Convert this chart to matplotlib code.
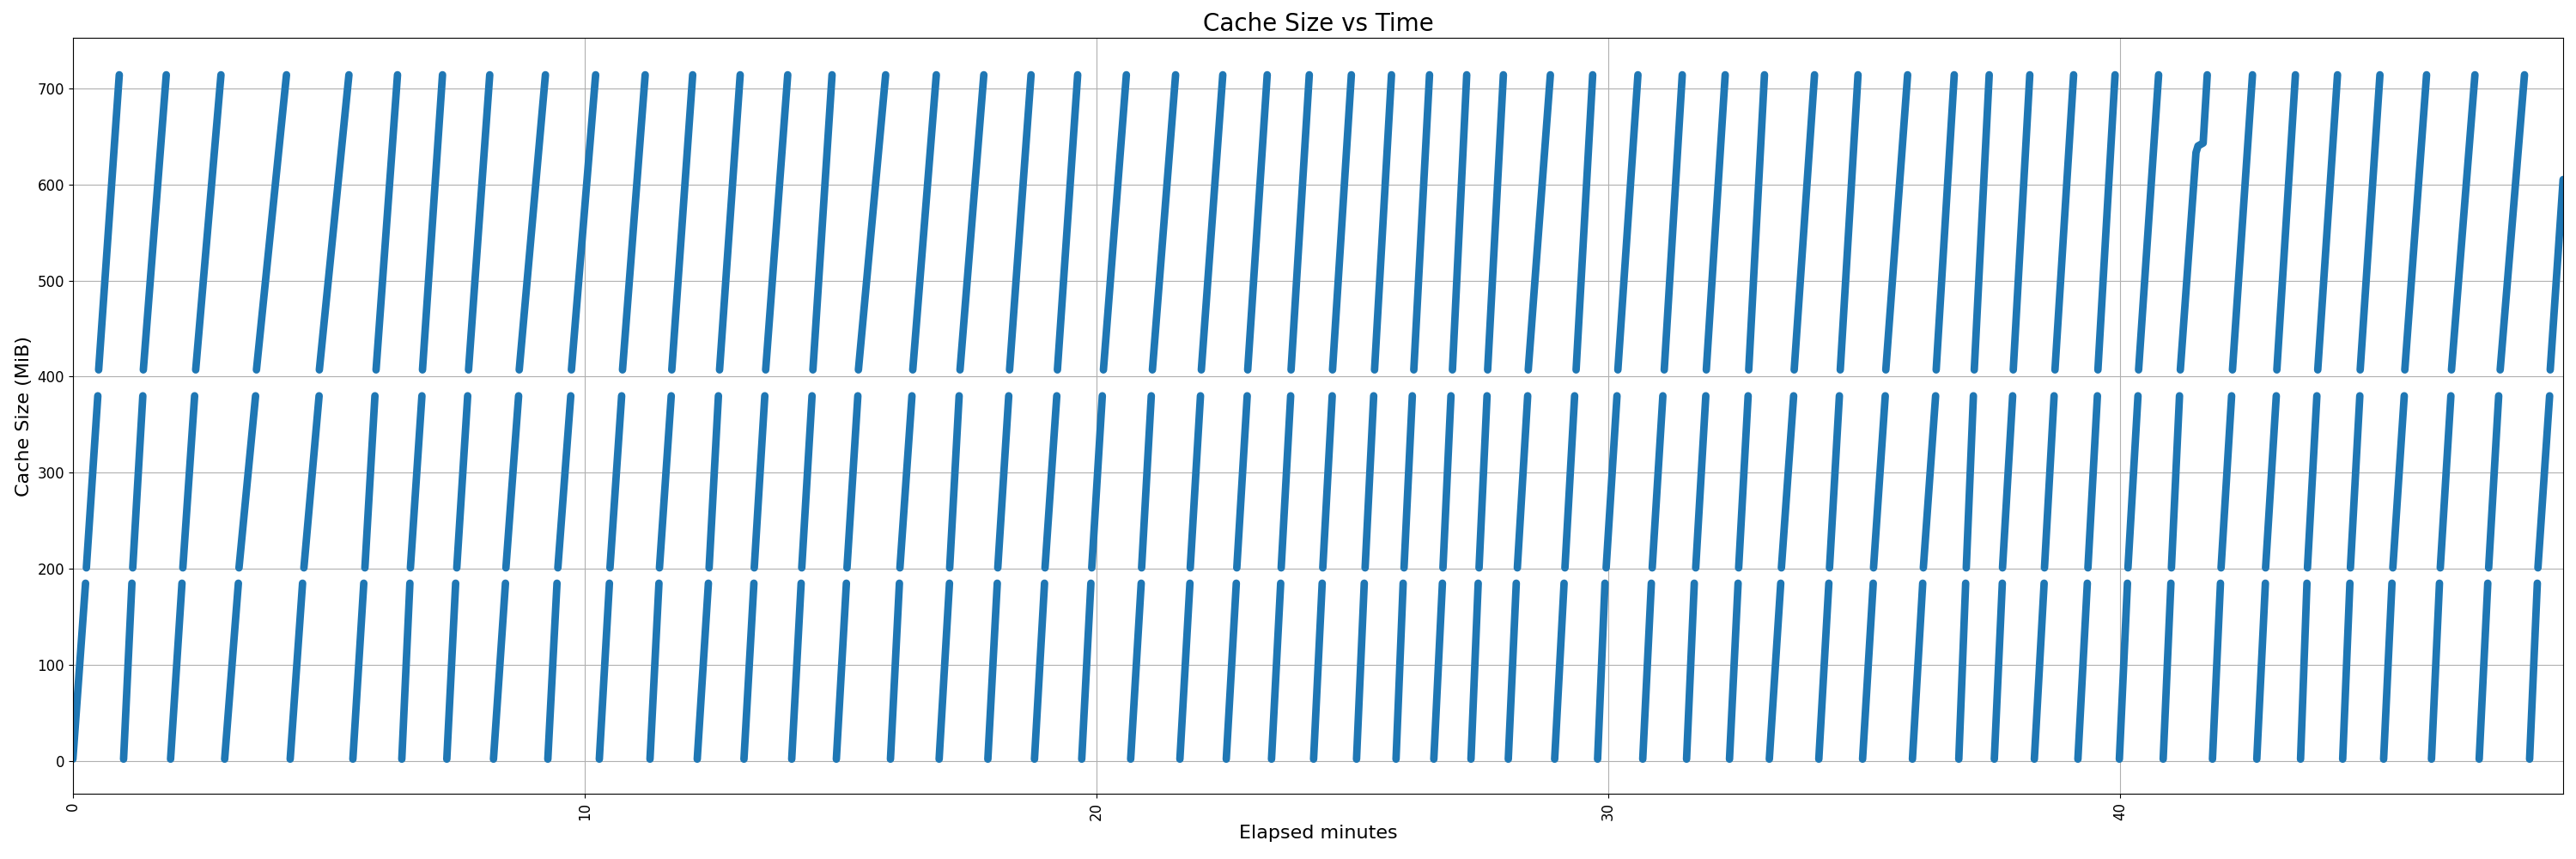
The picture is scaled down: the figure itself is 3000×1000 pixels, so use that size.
import numpy as np
import matplotlib
matplotlib.use("Agg")
import matplotlib.pyplot as plt

# cache size sawtooth: each cycle climbs through three bands then resets
# times (minutes) read at the start / end of every band
b1_start = [0.0, 0.990, 1.908, 2.965, 4.245, 5.470, 6.426, 7.305, 8.217, 9.279, 10.285, 11.275, 12.198, 13.111,
            14.044, 14.916, 15.973, 16.924, 17.876, 18.787, 19.710, 20.666, 21.628, 22.534, 23.418, 24.240, 25.079,
            25.851, 26.589, 27.315, 28.044, 28.950, 29.789, 30.671, 31.527, 32.366, 33.144, 34.111, 34.966, 35.940,
            36.846, 37.540, 38.322, 39.173, 39.983, 40.839, 41.802, 42.668, 43.523, 44.346, 45.146, 46.081, 47.013,
            47.998]
b1_end = [0.247, 1.153, 2.131, 3.233, 4.487, 5.683, 6.584, 7.478, 8.451, 9.458, 10.482, 11.450, 12.416, 13.305,
          14.228, 15.112, 16.148, 17.126, 18.060, 18.983, 19.889, 20.872, 21.824, 22.730, 23.597, 24.408, 25.230,
          25.990, 26.757, 27.456, 28.200, 29.134, 29.933, 30.839, 31.678, 32.534, 33.367, 34.307, 35.174, 36.141,
          36.980, 37.696, 38.513, 39.357, 40.141, 40.990, 41.958, 42.836, 43.648, 44.487, 45.309, 46.237, 47.181,
          48.149]
b2_start = [0.263, 1.169, 2.148, 3.245, 4.513, 5.705, 6.594, 7.500, 8.46, 9.475, 10.493, 11.460, 12.43, 13.312,
            14.24, 15.124, 16.158, 17.13, 18.07, 18.993, 19.906, 20.88, 21.83, 22.74, 23.607, 24.42, 25.247,
            26.007, 26.768, 27.473, 28.221, 29.151, 29.956, 30.856, 31.706, 32.545, 33.38, 34.32, 35.18, 36.153,
            36.992, 37.70, 38.52, 39.369, 40.151, 41.00, 41.970, 42.84, 43.658, 44.497, 45.326, 46.253, 47.198,
            48.161]
b2_end = [0.487, 1.366, 2.378, 3.569, 4.810, 5.901, 6.819, 7.713, 8.708, 9.727, 10.721, 11.690, 12.612, 13.518,
          14.441, 15.336, 16.393, 17.315, 18.284, 19.223, 20.112, 21.069, 22.030, 22.943, 23.792, 24.604, 25.414,
          26.169, 26.924, 27.629, 28.423, 29.340, 30.168, 31.064, 31.903, 32.730, 33.619, 34.513, 35.409, 36.393,
          37.131, 37.898, 38.708, 39.554, 40.347, 41.158, 42.176, 43.049, 43.842, 44.681, 45.549, 46.460, 47.394,
          48.389]
# band 3 of full cycles (the one at ~41.2 min and the last partial one are separate)
b3_start = [0.503, 1.376, 2.399, 3.586, 4.815, 5.923, 6.83, 7.730, 8.72, 9.74, 10.738, 11.701, 12.634, 13.535,
            14.458, 15.347, 16.409, 17.332, 18.30, 19.235, 20.134, 21.091, 22.047, 22.953, 23.80, 24.61, 25.431,
            26.198, 26.953, 27.641, 28.434, 29.369, 30.185, 31.091, 31.913, 32.742, 33.63, 34.530, 35.42, 36.404,
            37.148, 37.91, 38.725, 39.564, 40.359, 42.193, 43.060, 43.859, 44.688, 45.560, 46.472, 47.423]
b3_end = [0.906, 1.824, 2.893, 4.173, 5.393, 6.342, 7.221, 8.144, 9.232, 10.213, 11.181, 12.109, 13.037, 13.966,
          14.832, 15.879, 16.869, 17.797, 18.720, 19.631, 20.582, 21.544, 22.466, 23.334, 24.156, 24.978, 25.762,
          26.505, 27.232, 27.948, 28.866, 29.693, 30.577, 31.443, 32.282, 33.049, 34.027, 34.877, 35.846, 36.757,
          37.440, 38.233, 39.089, 39.899, 40.750, 42.584, 43.423, 44.245, 45.074, 45.985, 46.930, 47.898]

kink_t = [41.174, 41.48, 41.52, 41.62, 41.70]
kink_y = [407, 633, 640, 643, 714]
tail_t = [48.401, 48.653]
tail_y = [407, 605]

# MiB levels of each band (bottom, top)
b1_lvl = (2, 185)
b2_lvl = (201, 380)
b3_lvl = (407, 714)

color = '#1f77b4'
lw = 6.3

fig, ax = plt.subplots(figsize=(30, 10), dpi=100)

bands = [(b1_start, b1_end, b1_lvl), (b2_start, b2_end, b2_lvl), (b3_start, b3_end, b3_lvl)]
for starts, ends, lvl in bands:
    for ts, te in zip(starts, ends):
        ax.plot([ts, te], [lvl[0], lvl[1]], color=color, lw=lw, solid_capstyle='round')

ax.plot(kink_t, kink_y, color=color, lw=lw, solid_capstyle='round', solid_joinstyle='round')
ax.plot(tail_t, tail_y, color=color, lw=lw, solid_capstyle='round')

ax.set_xlim(0, tail_t[-1])
ax.set_ylim(-34, 752.5)
ax.set_title('Cache Size vs Time', fontsize=20)
ax.set_xlabel('Elapsed minutes', fontsize=16)
ax.set_ylabel('Cache Size (MiB)', fontsize=16)
ax.tick_params(axis='both', labelsize=12)
plt.xticks(rotation=90)
ax.grid(True)

plt.subplots_adjust(left=0.0283, right=0.995, top=0.956, bottom=0.076)
plt.savefig('out.png')
